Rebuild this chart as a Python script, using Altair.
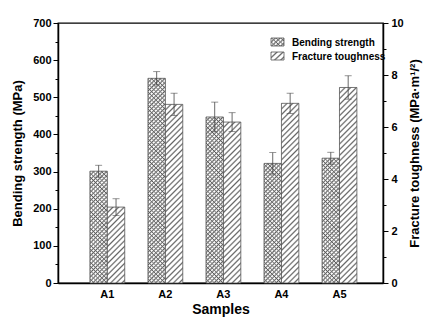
import math
import altair as alt
import pandas as pd

samples = ["A1", "A2", "A3", "A4", "A5"]
bending = [301, 551, 447, 322, 336]
bending_err = [16, 18, 40, 29, 16]
toughness = [2.92, 6.87, 6.19, 6.91, 7.52]
toughness_err = [0.32, 0.43, 0.36, 0.39, 0.45]
series_names = ["Bending strength", "Fracture toughness"]
bend_ticks = list(range(0, 701, 50))
tough_ticks = list(range(0, 11))

W, H = 325, 260
BEND_MAX, TOUGH_MAX = 700, 10
P_IN, P_OUT = 0.4, 0.5
STEP = W / (len(samples) - P_IN + 2 * P_OUT)
BAR_W = STEP * (1 - P_IN) / 2
FONT = "Arial, Liberation Sans, sans-serif"


def stripes(w, h, spacing, f, color, bg, direction):
    """Soft-edged repeating stripes drawn with a linear gradient."""
    n = (w + h) / (math.sqrt(2) * spacing)
    stops = []
    k = 0
    while k < n:
        pts = [(k, color), (k + f, bg), (k + 1 - f, bg)]
        for p, col in pts:
            stops.append({"offset": min(p / n, 1.0), "color": col})
        k += 1
    stops.append({"offset": min(k / n, 1.0), "color": color})
    t = (w + h) / (w * w + h * h)
    if direction == "/":
        return {"gradient": "linear", "x1": 0, "y1": 0, "x2": t * w, "y2": t * h, "stops": stops}
    return {"gradient": "linear", "x1": 0, "y1": 1, "x2": t * w, "y2": 1 - t * h, "stops": stops}


def cross_a(w, h):
    return stripes(w, h, 3.0, 0.38, "#5a5a5a", "#ffffff", "/")


def cross_b(w, h):
    return stripes(w, h, 3.0, 0.38, "rgba(90,90,90,1)", "rgba(255,255,255,0)", "\\")


def diag(w, h):
    return stripes(w, h, 4.0, 0.3, "#666666", "#ffffff", "/")


bend_df = pd.DataFrame({
    "sample": samples, "series": series_names[0], "value": bending,
    "lo": [v - e for v, e in zip(bending, bending_err)],
    "hi": [v + e for v, e in zip(bending, bending_err)],
})
tough_df = pd.DataFrame({
    "sample": samples, "series": series_names[1], "value": toughness,
    "lo": [v - e for v, e in zip(toughness, toughness_err)],
    "hi": [v + e for v, e in zip(toughness, toughness_err)],
})

x_axis = alt.Axis(title="Samples", ticks=False, labelAngle=0, domainColor="black", domainWidth=1.5,
                  labelFont=FONT, labelFontWeight="bold", labelFontSize=11, labelColor="black",
                  labelPadding=5, titleFont=FONT, titleFontWeight="bold", titleFontSize=14,
                  titleColor="black", titlePadding=3)
X = alt.X("sample:N", scale=alt.Scale(domain=samples, paddingInner=P_IN, paddingOuter=P_OUT, align=0.55),
          axis=x_axis)
XO = alt.XOffset("series:N", scale=alt.Scale(domain=series_names, paddingInner=0, paddingOuter=0))

left_axis = alt.Axis(
    orient="left", values=bend_ticks, title="Bending strength (MPa)",
    labelExpr="datum.value % 100 == 0 ? datum.label : ''",
    tickSize={"condition": {"test": "datum.value % 100 == 0", "value": 5}, "value": 3},
    grid=False, domainColor="black", domainWidth=1.5, tickColor="black", tickWidth=1,
    labelFont=FONT, labelFontWeight="bold", labelFontSize=11, labelColor="black", labelPadding=2,
    titleFont=FONT, titleFontWeight="bold", titleFontSize=13, titleColor="black", titlePadding=8)
right_axis = alt.Axis(
    orient="right", values=tough_ticks, title="Fracture toughness (MPa·m¹/²)",
    labelExpr="datum.value % 2 == 0 ? datum.label : ''",
    tickSize={"condition": {"test": "datum.value % 2 == 0", "value": 5}, "value": 3},
    grid=False, domainColor="black", domainWidth=1.5, tickColor="black", tickWidth=1,
    labelFont=FONT, labelFontWeight="bold", labelFontSize=11, labelColor="black", labelPadding=3,
    titleFont=FONT, titleFontWeight="bold", titleFontSize=13, titleColor="black", titlePadding=5,
    titleAngle=270, titleBaseline="top")

yb_scale = alt.Scale(domain=[0, BEND_MAX], nice=False, zero=True)
yt_scale = alt.Scale(domain=[0, TOUGH_MAX], nice=False, zero=True)

bend_layers = []
for s, v in zip(samples, bending):
    h = v * H / BEND_MAX
    base = alt.Chart(bend_df).transform_filter(alt.datum.sample == s)
    bend_layers.append(base.mark_bar(fill=cross_a(BAR_W, h)).encode(
        x=X, xOffset=XO, y=alt.Y("value:Q", scale=yb_scale, axis=left_axis)))
    bend_layers.append(base.mark_bar(fill=cross_b(BAR_W, h), stroke="#555555", strokeWidth=0.8).encode(
        x=X, xOffset=XO, y=alt.Y("value:Q", scale=yb_scale, axis=left_axis)))
bend_err = alt.Chart(bend_df)
bend_layers.append(bend_err.mark_rule(color="#444444", strokeWidth=0.8).encode(
    x=X, xOffset=XO, y=alt.Y("lo:Q", scale=yb_scale, axis=left_axis), y2="hi:Q"))
for col in ["lo", "hi"]:
    bend_layers.append(bend_err.mark_tick(orient="horizontal", size=7, thickness=0.8, color="#444444").encode(
        x=X, xOffset=XO, y=alt.Y(f"{col}:Q", scale=yb_scale, axis=left_axis)))

tough_layers = []
for s, v in zip(samples, toughness):
    h = v * H / TOUGH_MAX
    base = alt.Chart(tough_df).transform_filter(alt.datum.sample == s)
    tough_layers.append(base.mark_bar(fill=diag(BAR_W, h), stroke="#555555", strokeWidth=0.8).encode(
        x=X, xOffset=XO, y=alt.Y("value:Q", scale=yt_scale, axis=right_axis)))
tough_err = alt.Chart(tough_df)
tough_layers.append(tough_err.mark_rule(color="#444444", strokeWidth=0.8).encode(
    x=X, xOffset=XO, y=alt.Y("lo:Q", scale=yt_scale, axis=right_axis), y2="hi:Q"))
for col in ["lo", "hi"]:
    tough_layers.append(tough_err.mark_tick(orient="horizontal", size=7, thickness=0.8, color="#444444").encode(
        x=X, xOffset=XO, y=alt.Y(f"{col}:Q", scale=yt_scale, axis=right_axis)))

legend_df = pd.DataFrame({"label": series_names})
legend_fills = [[cross_a(12, 8), cross_b(12, 8)], [diag(12, 8)]]
legend_layers = []
for i, name in enumerate(series_names):
    y0 = 15 + i * 14
    ldata = alt.Chart(legend_df).transform_filter(alt.datum.label == name)
    for j, fl in enumerate(legend_fills[i]):
        legend_layers.append(ldata.mark_rect(fill=fl, stroke="#555555" if j == len(legend_fills[i]) - 1 else None,
                                             strokeWidth=0.8).encode(
            x=alt.value(213), x2=alt.value(226), y=alt.value(y0), y2=alt.value(y0 + 8)))
    legend_layers.append(ldata.mark_text(align="left", baseline="middle", font=FONT, fontWeight="bold",
                                         fontStyle="normal", fontSize=10, color="black").encode(
        x=alt.value(234), y=alt.value(y0 + 4.5), text="label:N"))

chart = alt.layer(
    alt.layer(*bend_layers),
    alt.layer(*tough_layers),
    *legend_layers,
).resolve_scale(y="independent").properties(
    width=W, height=H,
    padding={"left": 50, "top": 15, "right": 41, "bottom": 37},
    autosize=alt.AutoSizeParams(type="none"),
).configure_view(stroke="black", strokeWidth=1.3)

chart.save("out.html", embed_options={"renderer": "svg", "actions": False})
